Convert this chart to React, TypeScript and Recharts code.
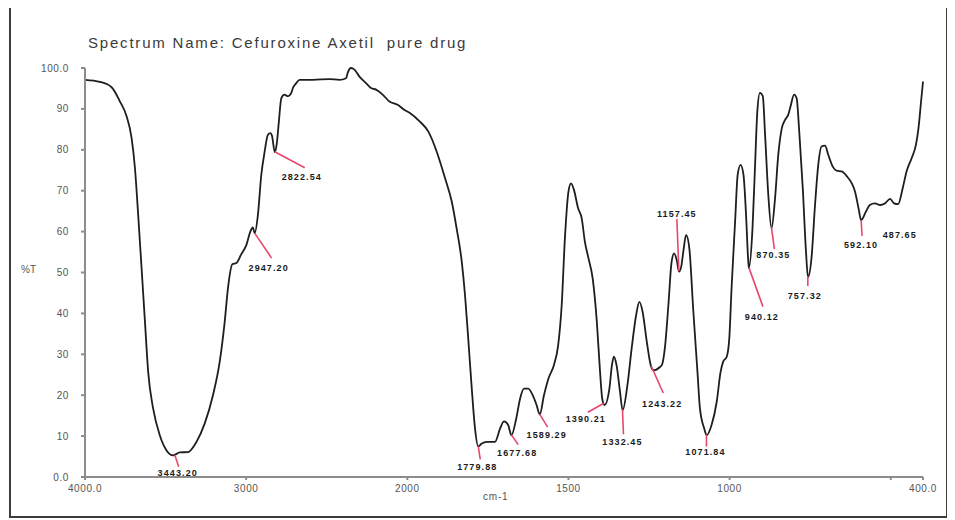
import React from 'react';
import { LineChart, Line, XAxis, YAxis, ReferenceDot } from 'recharts';

// IR spectrum, wavenumber (cm-1) and %T
const wavenumbers = [
  4000, 3907, 3835, 3783, 3742, 3711, 3690, 3670, 3649, 3628, 3608, 3577, 3536, 3494, 3453, 3412,
  3360, 3308, 3257, 3206, 3164, 3133, 3113, 3086, 3061, 3030, 2999, 2974, 2958, 2947, 2927, 2906,
  2885, 2865, 2850, 2840, 2822, 2810, 2797, 2782, 2762, 2741, 2720, 2710, 2689, 2669, 2586, 2483,
  2421, 2380, 2370, 2349, 2328, 2297, 2256, 2225, 2194, 2153, 2111, 2060, 2019, 1992, 1961, 1935,
  1909, 1883, 1862, 1847, 1831, 1821, 1811, 1800, 1790, 1780, 1769, 1754, 1728, 1712, 1700, 1687,
  1677, 1662, 1650, 1638, 1625, 1611, 1599, 1589, 1576, 1562, 1545, 1532, 1521, 1511, 1500, 1492,
  1483, 1470, 1459, 1449, 1438, 1425, 1412, 1402, 1395, 1388, 1373, 1365, 1359, 1351, 1340, 1332,
  1317, 1304, 1290, 1280, 1270, 1257, 1245, 1236, 1216, 1210, 1200, 1190, 1180, 1172, 1164, 1157,
  1150, 1143, 1135, 1125, 1113, 1100, 1092, 1079, 1071, 1056, 1040, 1028, 1020, 1009, 1001, 994,
  983, 975, 966, 957, 949, 942, 940, 929, 921, 914, 906, 897, 890, 880, 870, 859,
  849, 838, 828, 818, 811, 800, 792, 784, 773, 763, 757, 746, 735, 725, 715, 704,
  694, 680, 668, 652, 636, 621, 611, 600, 592, 577, 565, 549, 533, 518, 502, 490,
  477, 463, 451, 435, 422, 414, 406, 400,
];

const transmittance = [
  97.1, 96.6, 95.3, 91.8, 88.2, 82.9, 75.5, 64.1, 51.1, 38.0, 25.7, 16.7, 10.2, 6.5, 5.3, 6.0,
  6.1, 8.6, 13.1, 20.0, 28.2, 38.0, 46.1, 52.0, 52.3, 54.5, 56.7, 60.0, 61.0, 59.6, 64.1, 73.9,
  79.6, 83.7, 84.1, 83.5, 79.4, 81.5, 86.9, 92.6, 93.5, 93.1, 93.9, 95.1, 96.3, 97.1, 97.1, 97.3,
  97.1, 97.5, 98.8, 100.0, 99.6, 97.9, 96.3, 95.1, 94.7, 93.5, 91.8, 91.0, 89.8, 89.0, 86.9, 84.5,
  79.6, 73.1, 67.3, 60.8, 52.6, 44.5, 33.9, 21.6, 11.9, 7.5, 8.2, 8.6, 8.6, 11.9, 13.6, 12.7,
  10.2, 14.3, 19.2, 21.6, 21.6, 20.0, 17.6, 15.3, 20.0, 24.1, 27.4, 32.2, 42.0, 58.4, 69.8, 71.8,
  70.2, 65.7, 63.3, 57.5, 53.5, 48.6, 38.0, 25.7, 19.0, 17.6, 21.6, 27.4, 29.4, 27.4, 20.8, 16.3,
  22.5, 31.4, 39.6, 42.8, 40.4, 33.1, 27.4, 26.1, 26.9, 27.4, 32.2, 42.0, 52.6, 54.7, 53.0, 50.2,
  51.5, 55.5, 59.2, 55.9, 41.0, 26.0, 16.7, 11.9, 10.2, 12.7, 18.4, 25.7, 28.2, 29.4, 33.9, 46.1,
  62.4, 73.9, 76.3, 73.9, 64.1, 52.6, 51.1, 60.8, 76.3, 89.4, 93.9, 93.1, 83.7, 69.0, 60.8, 68.2,
  78.8, 85.3, 87.3, 88.6, 90.6, 93.5, 92.6, 84.5, 70.6, 55.1, 48.8, 53.5, 66.5, 76.3, 80.8, 81.0,
  78.8, 75.9, 74.9, 74.7, 73.5, 71.8, 69.8, 65.7, 62.8, 64.9, 66.5, 66.9, 66.5, 66.9, 68.0, 66.9,
  66.7, 70.6, 74.7, 78.0, 81.2, 85.3, 91.8, 96.7,
];

const xTickValues = [4000, 3000, 2000, 1500, 1000, 500, 400];
const xTickLabels = ['4000.0', '3000', '2000', '1500', '1000', '', '400.0'];
const yTickValues = [0, 10, 20, 30, 40, 50, 60, 70, 80, 90, 100];
const yTickLabels = ['0.0', '10', '20', '30', '40', '50', '60', '70', '80', '90', '100.0'];

// Labelled peak positions (cm-1)
const peakWavenumbers = [
  3443.2, 2947.2, 2822.54, 1779.88, 1677.68, 1589.29, 1390.21, 1332.45,
  1243.22, 1157.45, 1071.84, 940.12, 870.35, 757.32, 592.1, 487.65,
];

// Leader-line end (lx, ly) and text centre (tx, ty), in px from each peak
const peakLabelLayout = [
  { lx: 4, ly: 12, tx: 3, ty: 18 },
  { lx: 17, ly: 25, tx: 14, ty: 35 },
  { lx: 30, ly: 16, tx: 27, ty: 25 },
  { lx: 2, ly: 13, tx: -1, ty: 21 },
  { lx: 7, ly: 10, tx: 6, ty: 18 },
  { lx: 8, ly: 13, tx: 7, ty: 21 },
  { lx: -16, ly: 9, tx: -18, ty: 16 },
  { lx: 1, ly: 25, tx: 0, ty: 33 },
  { lx: 12, ly: 27, tx: 11, ty: 38 },
  { lx: -2, ly: -52, tx: -2, ty: -57 },
  { lx: 0, ly: 12, tx: -1, ty: 17 },
  { lx: 14, ly: 39, tx: 13, ty: 49 },
  { lx: 3, ly: 22, tx: 2, ty: 28 },
  { lx: 0, ly: 10, tx: -3, ty: 20 },
  { lx: 1, ly: 16, tx: 0, ty: 25 },
  { lx: 0, ly: 0, tx: 5, ty: 31 },
];

// The instrument scale: 4000–2000 cm-1 at half the spacing of 2000–400 cm-1
const axisPos = (w: number) => (w >= 2000 ? 4000 - w : 2000 + 2 * (2000 - w));

const spectrum = wavenumbers.map((w, i) => ({ pos: axisPos(w), t: transmittance[i] }));

// %T on the drawn trace at a given wavenumber
const traceAt = (w: number) => {
  for (let i = 0; i < wavenumbers.length - 1; i++) {
    const a = wavenumbers[i];
    const b = wavenumbers[i + 1];
    if (w <= a && w >= b) {
      const f = (a - w) / (a - b);
      return transmittance[i] + f * (transmittance[i + 1] - transmittance[i]);
    }
  }
  return transmittance[transmittance.length - 1];
};

const FONT = '"Liberation Sans", Arial, sans-serif';
const AXIS_GREY = '#8c8c8c';

const xTickMap: Record<number, string> = {};
xTickValues.forEach((v, i) => {
  xTickMap[axisPos(v)] = xTickLabels[i];
});
const yTickMap: Record<number, string> = {};
yTickValues.forEach((v, i) => {
  yTickMap[v] = yTickLabels[i];
});

export default function App() {
  return (
    <div
      style={{
        position: 'relative',
        marginTop: -3,
        marginLeft: 1,
        width: 939,
        height: 513,
        boxSizing: 'border-box',
        border: '2px solid #3c3c3c',
        background: '#fff',
        fontFamily: FONT,
      }}
    >
      <div
        style={{
          position: 'absolute',
          left: 77,
          top: 27,
          fontSize: 15,
          letterSpacing: 1.8,
          color: '#3a3a3a',
          whiteSpace: 'pre',
        }}
      >
        {'Spectrum Name: Cefuroxine Axetil  pure drug'}
      </div>
      <div
        style={{
          position: 'absolute',
          left: 10,
          top: 257,
          fontSize: 10,
          color: '#555',
        }}
      >
        %T
      </div>
      <div
        style={{
          position: 'absolute',
          left: 472,
          top: 484,
          fontSize: 10,
          letterSpacing: 0.8,
          color: '#555',
        }}
      >
        cm-1
      </div>
      <LineChart
        width={935}
        height={509}
        data={spectrum}
        margin={{ top: 61, right: 23, left: 34, bottom: 9 }}
      >
        <XAxis
          dataKey="pos"
          type="number"
          domain={[0, 5200]}
          ticks={xTickValues.map(axisPos)}
          tickFormatter={(v: number) => xTickMap[v] ?? ''}
          height={30}
          stroke={AXIS_GREY}
          strokeWidth={2}
          tickSize={3}
          tickMargin={5}
          tick={{ fill: '#555', fontSize: 10, fontFamily: FONT, letterSpacing: 0.6 }}
          interval={0}
        />
        <YAxis
          dataKey="t"
          type="number"
          domain={[0, 100]}
          ticks={yTickValues}
          tickFormatter={(v: number) => yTickMap[v] ?? ''}
          width={40}
          stroke={AXIS_GREY}
          strokeWidth={2}
          tickSize={4}
          tickMargin={12}
          tick={{ fill: '#555', fontSize: 10, fontFamily: FONT, letterSpacing: 0.6 }}
          interval={0}
        />
        <Line
          type="monotoneX"
          dataKey="t"
          stroke="#1e1e1e"
          strokeWidth={1.8}
          dot={false}
          isAnimationActive={false}
        />
        {peakWavenumbers.map((w, i) => {
          const lay = peakLabelLayout[i];
          return (
            <ReferenceDot
              key={w}
              x={axisPos(w)}
              y={traceAt(w)}
              r={0}
              ifOverflow="visible"
              shape={(p: any) => (
                <g>
                  {(lay.lx !== 0 || lay.ly !== 0) && (
                    <line
                      x1={p.cx}
                      y1={p.cy}
                      x2={p.cx + lay.lx}
                      y2={p.cy + lay.ly}
                      stroke="#e8476a"
                      strokeWidth={1.6}
                    />
                  )}
                  <text
                    x={p.cx + lay.tx}
                    y={p.cy + lay.ty}
                    textAnchor="middle"
                    dominantBaseline="central"
                    fontSize={9}
                    fontWeight="bold"
                    letterSpacing={1.1}
                    fill="#1a1a1a"
                    fontFamily={FONT}
                  >
                    {w.toFixed(2)}
                  </text>
                </g>
              )}
            />
          );
        })}
      </LineChart>
    </div>
  );
}
